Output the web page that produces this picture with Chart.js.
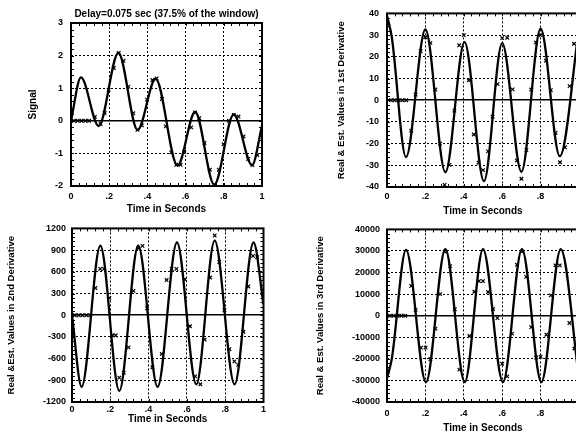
<!DOCTYPE html>
<html>
<head>
<meta charset="utf-8">
<script src="https://cdn.jsdelivr.net/npm/chart.js@4.4.1/dist/chart.umd.min.js"></script>
<style>
  body { margin: 0; width: 576px; height: 434px; overflow: hidden; background: #fff; }
  canvas { position: absolute; }
</style>
</head>
<body>
<canvas id="c1" width="288" height="217" style="left:0;top:0"></canvas>
<canvas id="c2" width="310" height="217" style="left:288px;top:0"></canvas>
<canvas id="c3" width="288" height="217" style="left:0;top:217px"></canvas>
<canvas id="c4" width="310" height="217" style="left:288px;top:217px"></canvas>
<script>
// shared time axis
var timeTicks = [0, 0.2, 0.4, 0.6, 0.8, 1];
var timeLabels = ['0', '.2', '.4', '.6', '.8', '1'];

// panel 1 - signal
var sigTicks = [-2, -1, 0, 1, 2, 3];
var sigCurveT = [0, 0.052, 0.145, 0.248, 0.349, 0.443, 0.558, 0.65, 0.75, 0.852, 0.948, 1];
var sigCurveY = [0, 1.33, -0.16, 2.08, -0.28, 1.29, -1.37, 0.27, -1.96, 0.2, -1.36, -0.15];
var sigMarkT = [0.015, 0.035, 0.055, 0.075, 0.095, 0.125, 0.155, 0.176, 0.197, 0.224, 0.25, 0.275, 0.3, 0.326, 0.348,
  0.371, 0.398, 0.426, 0.448, 0.476, 0.496, 0.525, 0.551, 0.574, 0.593, 0.629, 0.65, 0.672, 0.699, 0.727, 0.75,
  0.774, 0.799, 0.827, 0.852, 0.877, 0.903, 0.927, 0.95, 0.975];
var sigMarkY = [0, 0, 0, 0, 0, 0.12, -0.1, 0.24, 0.95, 1.62, 2.08, 1.84, 1.05, 0.23, -0.28,
  -0.14, 0.65, 1.25, 1.3, 0.67, -0.17, -0.97, -1.35, -1.35, -0.95, -0.2, 0.26, 0.08, -0.68, -1.5, -1.96,
  -1.5, -0.72, 0, 0.18, 0.13, -0.48, -1.17, -1.36, -1.05];

// panel 2 - 1st derivative
var d1Ticks = [-40, -30, -20, -10, 0, 10, 20, 30, 40];
var d1CurveT = [0, 0.025, 0.099, 0.2, 0.304, 0.404, 0.505, 0.6, 0.7, 0.8, 0.9, 1];
var d1CurveY = [39, 29, -26.2, 32.6, -33.2, 26.8, -37.3, 26.3, -33, 33, -25.8, 33];
var d1MarkT = [0.02, 0.04, 0.06, 0.08, 0.1, 0.126, 0.149, 0.175, 0.2, 0.226, 0.252, 0.276, 0.3,
  0.325, 0.351, 0.376, 0.4, 0.426, 0.452, 0.477, 0.5, 0.526, 0.55, 0.576, 0.6, 0.626, 0.654, 0.677, 0.7,
  0.726, 0.751, 0.776, 0.8, 0.828, 0.853, 0.878, 0.901, 0.927, 0.951, 0.974];
var d1MarkY = [0, 0, 0, 0, 0, -14, 2.6, 22.7, 29, 26.4, 4.9, -20, -39,
  -29.8, -4.8, 25.3, 30, 9.2, -15.8, -28.8, -32.2, -23.6, -7.6, 7.4, 28.6, 28.8, 5, -27.8, -36.2,
  -23, 4.9, 26.6, 30, 18.2, 4.6, -15.1, -28.6, -21.7, 6.5, 26];

// panel 3 - 2nd derivative
var d2Ticks = [-1200, -900, -600, -300, 0, 300, 600, 900, 1200];
var d2CurveT = [0, 0.05, 0.148, 0.247, 0.346, 0.447, 0.548, 0.649, 0.745, 0.849, 0.948, 1];
var d2CurveY = [0, -990, 960, -1045, 960, -990, 1005, -955, 1030, -955, 1005, 150];
var d2MarkT = [0.015, 0.035, 0.055, 0.075, 0.095, 0.122, 0.147, 0.167, 0.195, 0.212, 0.228, 0.247, 0.27, 0.295, 0.321,
  0.346, 0.368, 0.392, 0.42, 0.469, 0.494, 0.52, 0.545, 0.59, 0.616, 0.643, 0.67, 0.693, 0.721, 0.745,
  0.769, 0.796, 0.822, 0.848, 0.868, 0.895, 0.92, 0.945, 0.967];
var d2MarkY = [0, 0, 0, 0, 0, 376, 640, 640, 240, -275, -280, -863, -795, -445, 337,
  925, 958, 94, -720, -536, 486, 640, 640, 494, -153, -845, -955, -338, 521, 1101,
  736, 69, -470, -639, -687, -229, 397, 820, 802];

// panel 4 - 3rd derivative
var d3Ticks = [-40000, -30000, -20000, -10000, 0, 10000, 20000, 30000, 40000];
var d3CurveT = [0, 0.025, 0.099, 0.203, 0.304, 0.405, 0.5, 0.604, 0.703, 0.804, 0.905, 1];
var d3CurveY = [-29000, -20000, 30500, -30800, 30800, -30800, 30800, -30800, 30800, -30800, 30800, -29000];
var d3MarkT = [0.015, 0.035, 0.055, 0.075, 0.095, 0.126, 0.149, 0.177, 0.201, 0.226, 0.252, 0.277, 0.3, 0.329, 0.353,
  0.377, 0.429, 0.455, 0.479, 0.5, 0.526, 0.552, 0.575, 0.6, 0.626, 0.651, 0.677, 0.703, 0.725, 0.751,
  0.777, 0.8, 0.83, 0.853, 0.877, 0.9, 0.95, 0.976];
var d3MarkY = [0, 0, 0, 0, 0, 13800, 2700, -14800, -14800, -20100, -6000, 10000, 29700, 23000, 3000,
  -25000, -9400, 11100, 16000, 16000, 11000, 3100, -1100, -22300, -28100, -8300, 23600, 29700, 18000, -5300,
  -19400, -19000, -8800, 9400, 23300, 23300, -3400, -15200];

Chart.defaults.font.family = "'Liberation Sans', Arial, sans-serif";
Chart.defaults.color = '#000';

function pts(t, y) {
  return t.map(function (v, i) { return { x: v, y: y[i] }; });
}

//frame round the plot + small inner ticks
var framePlugin = {
  id: 'frame',
  afterDatasetsDraw: function (chart, args, opts) {
    var ctx = chart.ctx, a = chart.chartArea;
    var xs = chart.scales.x, ys = chart.scales.y;
    ctx.save();
    ctx.strokeStyle = '#000';
    ctx.lineWidth = 1;
    ctx.beginPath();
    var n = Math.round((xs.max - xs.min) / opts.xMinor);
    for (var i = 1; i < n; i++) {
      var px = Math.round(xs.getPixelForValue(xs.min + i * opts.xMinor)) + 0.5;
      ctx.moveTo(px, a.bottom); ctx.lineTo(px, a.bottom - 3);
      ctx.moveTo(px, a.top); ctx.lineTo(px, a.top + 3);
    }
    n = Math.round((ys.max - ys.min) / opts.yMinor);
    for (var j = 1; j < n; j++) {
      var py = Math.round(ys.getPixelForValue(ys.min + j * opts.yMinor)) + 0.5;
      ctx.moveTo(a.left, py); ctx.lineTo(a.left + 3, py);
      ctx.moveTo(a.right, py); ctx.lineTo(a.right - 3, py);
    }
    ctx.stroke();
    ctx.lineWidth = 2;
    ctx.strokeRect(a.left, a.top, a.right - a.left, a.bottom - a.top);
    ctx.restore();
  }
};

function isZero(c) { return c.tick && c.tick.value === 0; }

function makePanel(id, o) {
  return new Chart(document.getElementById(id), {
    type: 'line',
    data: {
      datasets: [{
        data: pts(o.curveT, o.curveY),
        borderColor: '#000',
        borderWidth: 2.3,
        pointRadius: 0,
        cubicInterpolationMode: 'monotone',
        fill: false
      }, {
        data: pts(o.markT, o.markY),
        showLine: false,
        pointStyle: 'crossRot',
        pointRadius: 2.5,
        borderColor: '#000',
        backgroundColor: '#000',
        borderWidth: 1.2
      }]
    },
    options: {
      responsive: false,
      animation: false,
      events: [],
      layout: { padding: o.pad },
      plugins: {
        legend: { display: false },
        tooltip: { enabled: false },
        title: o.title ? {
          display: true, text: o.title, fullSize: false,
          font: { size: 10, weight: 'bold' }, padding: { top: 8, bottom: 3 }
        } : { display: false },
        frame: { xMinor: 0.04, yMinor: o.yMinor }
      },
      scales: {
        x: {
          type: 'linear', min: 0, max: 1,
          afterBuildTicks: function (s) { s.ticks = timeTicks.map(function (v) { return { value: v }; }); },
          afterFit: function (s) { s.height = o.xH; },
          ticks: {
            font: { size: 9, weight: 'bold' }, padding: o.xPad, maxRotation: 0, autoSkip: false,
            callback: function (v) { return timeLabels[timeTicks.indexOf(v)]; }
          },
          grid: { color: '#000', lineWidth: 1, drawTicks: false },
          border: { display: false, dash: function (c) { return isZero(c) ? [] : [2, 2]; } },
          title: { display: true, text: 'Time in Seconds', font: { size: 10, weight: 'bold' }, padding: { top: 0, bottom: o.xTitlePad } }
        },
        y: {
          min: o.yTicks[0], max: o.yTicks[o.yTicks.length - 1],
          afterBuildTicks: function (s) { s.ticks = o.yTicks.map(function (v) { return { value: v }; }); },
          afterFit: function (s) { s.width = o.yW; },
          ticks: {
            font: { size: 9, weight: 'bold' }, padding: o.yPad, autoSkip: false,
            callback: function (v) { return String(v); }
          },
          grid: {
            color: '#000', drawTicks: false,
            lineWidth: function (c) { return isZero(c) ? 1.5 : 1; }
          },
          border: { display: false, dash: function (c) { return isZero(c) ? [] : [2, 2]; } },
          title: { display: true, text: o.yTitle, font: { size: o.yTitleSize, weight: 'bold' }, padding: { top: o.yTitlePad, bottom: 0 } }
        }
      }
    },
    plugins: [framePlugin]
  });
}

makePanel('c1', {
  curveT: sigCurveT, curveY: sigCurveY, markT: sigMarkT, markY: sigMarkY, yTicks: sigTicks,
  title: 'Delay=0.075 sec (37.5% of the window)', yTitle: 'Signal', yTitleSize: 10,
  pad: { left: 0, right: 26, top: 0, bottom: 0 }, xH: 31, yW: 71,
  xPad: 5, yPad: 8, xTitlePad: 2, yTitlePad: 27, yMinor: 0.2
});

makePanel('c2', {
  curveT: d1CurveT, curveY: d1CurveY, markT: d1MarkT, markY: d1MarkY, yTicks: d1Ticks,
  yTitle: 'Real & Est. Values in 1st Derivative', yTitleSize: 9.5,
  pad: { left: 0, right: 19, top: 13, bottom: 0 }, xH: 30, yW: 99,
  xPad: 4, yPad: 8, xTitlePad: 0, yTitlePad: 48, yMinor: 2
});

makePanel('c3', {
  curveT: d2CurveT, curveY: d2CurveY, markT: d2MarkT, markY: d2MarkY, yTicks: d2Ticks,
  yTitle: 'Real &Est. Values in 2nd Derivative', yTitleSize: 9.5,
  pad: { left: 0, right: 24.5, top: 9, bottom: 0 }, xH: 32, yW: 72,
  xPad: 2, yPad: 6, xTitlePad: 9, yTitlePad: 6, yMinor: 60
});

makePanel('c4', {
  curveT: d3CurveT, curveY: d3CurveY, markT: d3MarkT, markY: d3MarkY, yTicks: d3Ticks,
  yTitle: 'Real & Est. Values in 3rd Derivative', yTitleSize: 9.5,
  pad: { left: 0, right: 19, top: 9, bottom: 0 }, xH: 32, yW: 99,
  xPad: 6, yPad: 7, xTitlePad: 0, yTitlePad: 27, yMinor: 2000
});
</script>
</body>
</html>
